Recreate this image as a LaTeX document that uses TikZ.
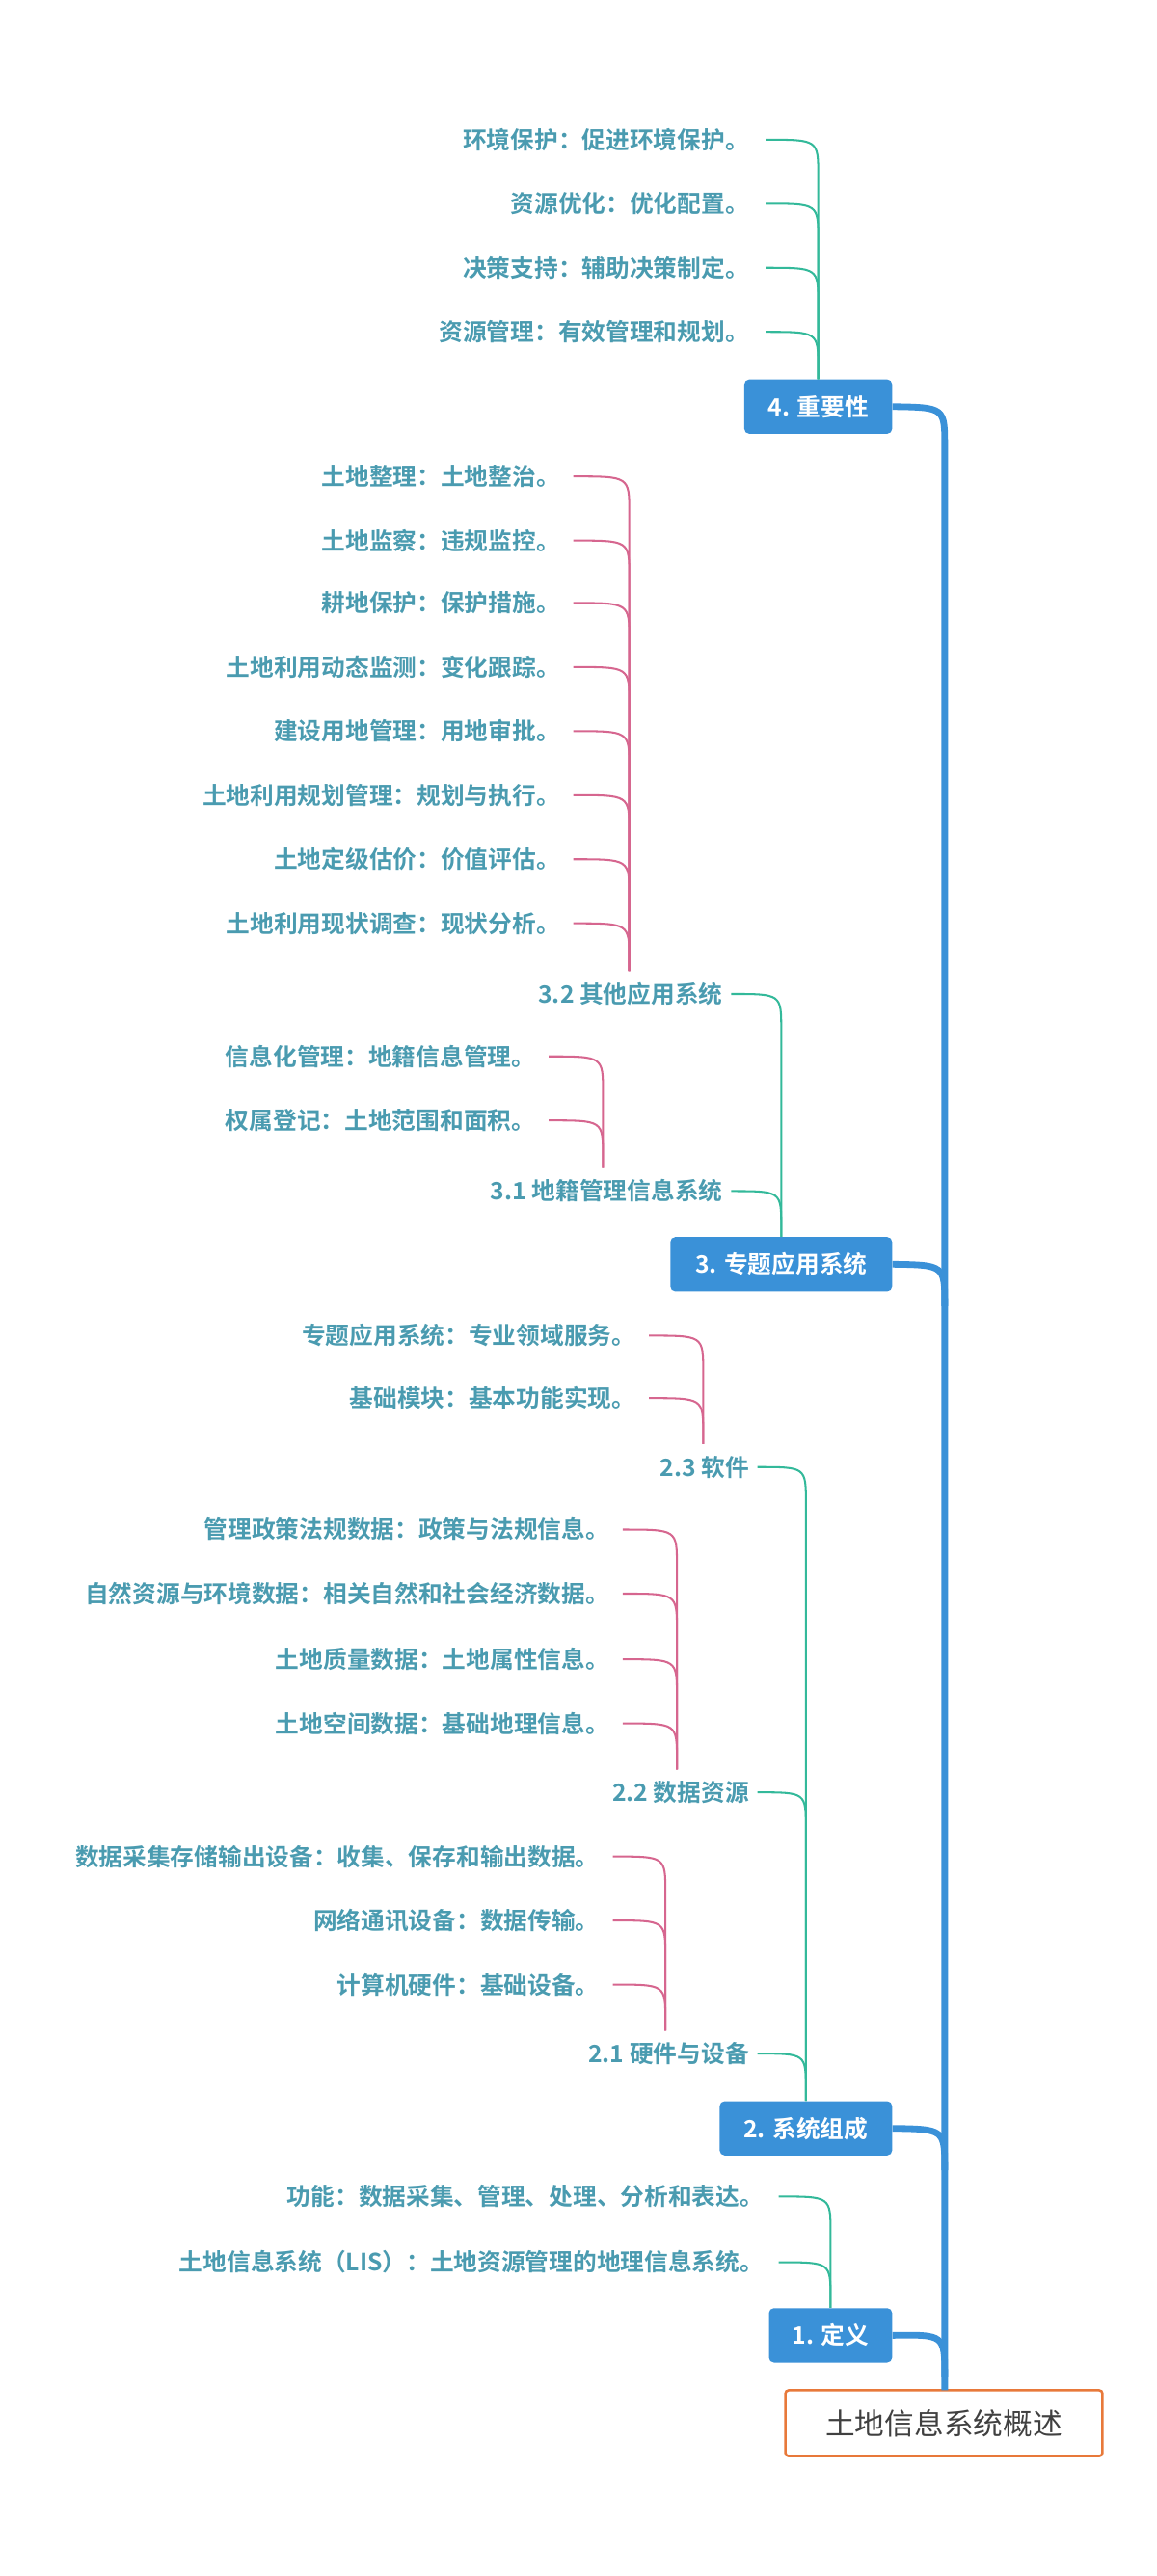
\documentclass[tikz,border=0pt]{standalone}
\usepackage{fontspec}
\setmainfont{Noto Sans CJK SC}[BoldFont={* Bold}]
\definecolor{mblue}{HTML}{3A91D8}
\definecolor{mgreen}{HTML}{33B99A}
\definecolor{mpink}{HTML}{D6668F}
\definecolor{mtext}{HTML}{4A9BB0}
\definecolor{morange}{HTML}{E8793A}
\tikzset{
 lone/.style={fill=mblue,rounded corners=3pt,text=white,font=\bfseries\fontsize{14.5}{16}\selectfont,minimum height=33pt,inner xsep=0pt},
 leaf/.style={anchor=east,text=mtext,font=\bfseries\fontsize{14.5}{16}\selectfont,inner sep=0pt},
 gl/.style={mgreen,line width=1.2pt},
 pl/.style={mpink,line width=1.2pt},
 bl/.style={mblue,line width=4pt},
}
\begin{document}
\begin{tikzpicture}[x=1pt,y=-1pt]
\useasboundingbox (0,0) rectangle (704,1568);
\node[draw=morange,line width=1.5pt,rounded corners=2pt,minimum width=193pt,minimum height=40pt,font=\fontsize{18}{20}\selectfont,text=black!75] (root) at (574.5,1475) {土地信息系统概述};
\node[lone,minimum width=75pt] (n1) at (505.5,1421.5) {1. 定义};
\node[lone,minimum width=105pt] (n2) at (490.5,1295.5) {2. 系统组成};
\node[lone,minimum width=135pt] (n3) at (475.5,769.5) {3. 专题应用系统};
\node[lone,minimum width=90pt] (n4) at (498,247.5) {4. 重要性};
\coordinate (tr) at (575,1455);
\draw[bl] (tr) -- (575,272) .. controls (575,248) .. (n4.east);
\draw[bl] (575,1447) .. controls (575,1421) .. (n1.east);
\draw[bl] (575,1321) .. controls (575,1296) .. (n2.east);
\draw[bl] (575,795) .. controls (575,770) .. (n3.east);
% level 1 children
\node[leaf] (a1) at (465,1337) {功能：数据采集、管理、处理、分析和表达。};
\node[leaf] (a2) at (465,1377) {土地信息系统（LIS）：土地资源管理的地理信息系统。};
\foreach \t in {a1,a2}{\draw[gl] (n1.north) -- ([yshift=-22pt]n1.north |- \t.east) .. controls (n1.north |- \t.east) .. ([xshift=9pt]\t.east);}
% node 2
\node[leaf] (b1) at (456,1250) {2.1 硬件与设备};
\node[leaf] (b2) at (456,1091) {2.2 数据资源};
\node[leaf] (b3) at (456,893) {2.3 软件};
\foreach \t in {b1,b2,b3}{\draw[gl] (n2.north) -- ([yshift=-22pt]n2.north |- \t.east) .. controls (n2.north |- \t.east) .. ([xshift=5pt]\t.east);}
\coordinate (c1) at (405,1236);
\node[leaf] (b11) at (365,1130) {数据采集存储输出设备：收集、保存和输出数据。};
\node[leaf] (b12) at (365,1169) {网络通讯设备：数据传输。};
\node[leaf] (b13) at (365,1208) {计算机硬件：基础设备。};
\foreach \t in {b11,b12,b13}{\draw[pl] (c1) -- ([yshift=-22pt]c1 |- \t.east) .. controls (c1 |- \t.east) .. ([xshift=8pt]\t.east);}
\coordinate (c2) at (412,1077);
\node[leaf] (b21) at (371,931) {管理政策法规数据：政策与法规信息。};
\node[leaf] (b22) at (371,970) {自然资源与环境数据：相关自然和社会经济数据。};
\node[leaf] (b23) at (371,1010) {土地质量数据：土地属性信息。};
\node[leaf] (b24) at (371,1049) {土地空间数据：基础地理信息。};
\foreach \t in {b21,b22,b23,b24}{\draw[pl] (c2) -- ([yshift=-22pt]c2 |- \t.east) .. controls (c2 |- \t.east) .. ([xshift=8pt]\t.east);}
\coordinate (c3) at (428,879);
\node[leaf] (b31) at (387,813) {专题应用系统：专业领域服务。};
\node[leaf] (b32) at (387,851) {基础模块：基本功能实现。};
\foreach \t in {b31,b32}{\draw[pl] (c3) -- ([yshift=-22pt]c3 |- \t.east) .. controls (c3 |- \t.east) .. ([xshift=8pt]\t.east);}
% node 3
\node[leaf] (d1) at (440,725) {3.1 地籍管理信息系统};
\node[leaf] (d2) at (440,605) {3.2 其他应用系统};
\foreach \t in {d1,d2}{\draw[gl] (n3.north) -- ([yshift=-22pt]n3.north |- \t.east) .. controls (n3.north |- \t.east) .. ([xshift=5pt]\t.east);}
\coordinate (e1) at (367,711);
\node[leaf] (d11) at (326,643) {信息化管理：地籍信息管理。};
\node[leaf] (d12) at (326,682) {权属登记：土地范围和面积。};
\foreach \t in {d11,d12}{\draw[pl] (e1) -- ([yshift=-22pt]e1 |- \t.east) .. controls (e1 |- \t.east) .. ([xshift=8pt]\t.east);}
\coordinate (e2) at (383,591);
\node[leaf] (d21) at (341,290) {土地整理：土地整治。};
\node[leaf] (d22) at (341,329) {土地监察：违规监控。};
\node[leaf] (d23) at (341,367) {耕地保护：保护措施。};
\node[leaf] (d24) at (341,406) {土地利用动态监测：变化跟踪。};
\node[leaf] (d25) at (341,445) {建设用地管理：用地审批。};
\node[leaf] (d26) at (341,484) {土地利用规划管理：规划与执行。};
\node[leaf] (d27) at (341,523) {土地定级估价：价值评估。};
\node[leaf] (d28) at (341,562) {土地利用现状调查：现状分析。};
\foreach \t in {d21,d22,d23,d24,d25,d26,d27,d28}{\draw[pl] (e2) -- ([yshift=-22pt]e2 |- \t.east) .. controls (e2 |- \t.east) .. ([xshift=8pt]\t.east);}
% node 4
\node[leaf] (f1) at (456,85) {环境保护：促进环境保护。};
\node[leaf] (f2) at (456,124) {资源优化：优化配置。};
\node[leaf] (f3) at (456,163) {决策支持：辅助决策制定。};
\node[leaf] (f4) at (456,202) {资源管理：有效管理和规划。};
\foreach \t in {f1,f2,f3,f4}{\draw[gl] (n4.north) -- ([yshift=-22pt]n4.north |- \t.east) .. controls (n4.north |- \t.east) .. ([xshift=10pt]\t.east);}
\end{tikzpicture}
\end{document}
